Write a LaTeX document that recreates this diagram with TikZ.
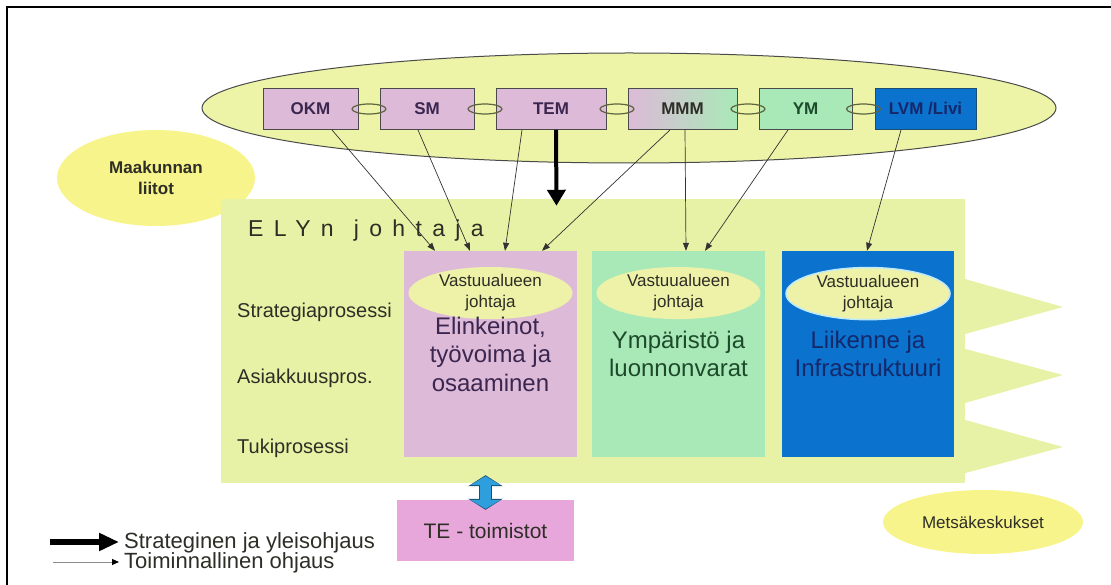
\documentclass[tikz,border=0pt]{standalone}
\usepackage{fontspec}
\setmainfont{Liberation Sans}
\usetikzlibrary{positioning,calc,arrows.meta,shapes.geometric}

\definecolor{ellfill}{HTML}{EDF4A8}
\definecolor{elyfill}{HTML}{E7F2A6}
\definecolor{yellowell}{HTML}{F7F48C}
\definecolor{pinkbox}{HTML}{DDBAD8}
\definecolor{greenbox}{HTML}{A9E9B7}
\definecolor{bluebox}{HTML}{0B72CE}
\definecolor{tefill}{HTML}{E7A7DB}
\definecolor{vastuufill}{HTML}{EDF2A8}
\definecolor{boxline}{HTML}{4A4A4A}
\definecolor{ringline}{HTML}{5E6440}
\definecolor{pinktext}{HTML}{3B2650}
\definecolor{greentext}{HTML}{1D4A2B}
\definecolor{bluetext}{HTML}{14286A}
\definecolor{darktext}{HTML}{2E2E26}
\definecolor{teblue}{HTML}{2E9FDC}
\definecolor{teedge}{HTML}{1B4E70}

\begin{document}
\begin{tikzpicture}[x=1pt,y=-1pt,
    minbox/.style={draw=boxline, line width=0.9pt, minimum height=41pt, inner sep=0pt,
      font=\fontsize{17}{17}\selectfont\bfseries},
    linkring/.style={ellipse, draw=ringline, line width=1.2pt, minimum width=34pt,
      minimum height=10pt, inner sep=0pt},
    area/.style={minimum width=173pt, minimum height=206pt, inner sep=0pt},
    vastuu/.style={ellipse, fill=vastuufill, minimum width=164pt, minimum height=42pt,
      inner sep=0pt, align=center, text=darktext, font=\fontsize{17}{21}\selectfont},
    areatext/.style={align=center, inner sep=0pt, font=\fontsize{24}{28.5}\selectfont},
    proc/.style={anchor=base west, inner sep=0pt, text=darktext, font=\fontsize{20}{20}\selectfont},
    legend/.style={anchor=base west, inner sep=0pt, text=darktext, font=\fontsize{22}{22}\selectfont},
    ohjaus/.style={draw=black!80, line width=0.7pt, -{Triangle[length=8pt,width=6pt]}},
    yleis/.style={line width=4pt, -{Triangle[length=16pt,width=18pt]}},
  ]
  \useasboundingbox (0,0) rectangle (1111,585);
  \draw[line width=1.8pt] (7,585) -- (7,7) -- (1111,7);

  % ministeries
  \node[ellipse, draw=boxline, line width=1pt, fill=ellfill, minimum width=854pt,
    minimum height=110pt, inner sep=0pt] (ministeriot) at (629,108) {};
  \node[ellipse, fill=yellowell, minimum width=198pt, minimum height=96pt, align=center,
    text=darktext, font=\fontsize{17}{21}\selectfont\bfseries] (maakunta) at (156,178) {Maakunnan\\liitot};

  \node[minbox, fill=pinkbox, minimum width=95pt, text=pinktext] (okm) at (310.5,109) {OKM};
  \node[minbox, fill=pinkbox, minimum width=94pt, text=pinktext] (sm) at (427,109) {SM};
  \node[minbox, fill=pinkbox, minimum width=110pt, text=pinktext] (tem) at (551,109) {TEM};
  \node[minbox, left color=pinkbox, right color=greenbox, minimum width=109pt, text=darktext] (mmm) at (682.5,109) {MMM};
  \node[minbox, fill=greenbox, minimum width=93pt, text=greentext] (ym) at (805.5,109) {YM};
  \node[minbox, fill=bluebox, draw=teedge, minimum width=101pt, text=bluetext] (lvm) at (925.5,109) {LVM /Livi};
  \foreach \a/\b in {okm/sm, sm/tem, tem/mmm, mmm/ym, ym/lvm}
    \node[linkring] at ($(\a.east)!0.5!(\b.west)$) {};

  % ELY
  \node[fill=elyfill, minimum width=744pt, minimum height=284pt, inner sep=0pt] (ely) at (593,341) {};
  \foreach \ya/\ym/\yb in {277/307/336, 347/375/405, 418/447/475}
    \fill[elyfill] (958,\ya) -- (1063,\ym) -- (958,\yb) -- cycle;
  \node[anchor=base west, inner sep=0pt, text=darktext, font=\fontsize{23}{23}\selectfont]
    (elyjohtaja) at (248,237) {\addfontfeature{LetterSpace=45}ELYn\hspace{20pt}johtaja};

  \node[proc] (strategia) at (237,317) {Strategiaprosessi};
  \node[proc] (asiakkuus) at (237,383) {Asiakkuuspros.};
  \node[proc] (tuki) at (237,453) {Tukiprosessi};

  \node[area, fill=pinkbox] (elink) at (490.5,354) {};
  \node[area, fill=greenbox] (ymparisto) at (678.5,354) {};
  \node[area, fill=bluebox, minimum width=172pt] (liikenne) at (868,354) {};
  \node[vastuu, below=16pt of elink.north] {Vastuualueen\\johtaja};
  \node[vastuu, below=16pt of ymparisto.north] {Vastuualueen\\johtaja};
  \node[vastuu, draw=cyan!25, line width=1.5pt, below=16pt of liikenne.north] {Vastuualueen\\johtaja};
  \node[areatext, text=pinktext] at (elink.center) {Elinkeinot,\\työvoima ja\\osaaminen};
  \node[areatext, text=greentext] at (ymparisto.center) {Ympäristö ja\\luonnonvarat};
  \node[areatext, text=bluetext] at (liikenne.center) {Liikenne ja\\Infrastruktuuri};

  % ohjaus
  \draw[ohjaus] ($(okm.south)+(21.5,0)$) -- ($(elink.north)+(-55.5,0)$);
  \draw[ohjaus] ($(sm.south)+(-9,0)$) -- ($(elink.north)+(-20.5,0)$);
  \draw[ohjaus] ($(tem.south)+(-29,0)$) -- ($(elink.north)+(14.5,0)$);
  \draw[ohjaus] ($(mmm.south)+(-12.5,0)$) -- ($(elink.north)+(51.5,0)$);
  \draw[ohjaus] ($(mmm.south)+(2.5,0)$) -- ($(ymparisto.north)+(7.5,0)$);
  \draw[ohjaus] ($(ym.south)+(-17.5,0)$) -- ($(ymparisto.north)+(26.5,0)$);
  \draw[ohjaus] ($(lvm.south)+(-24.5,0)$) -- ($(liikenne.north)+(-1,0)$);
  \draw[yleis] ($(tem.south)+(5,0)$) -- ($(tem.south |- ely.north)+(5.5,7)$);

  % TE-toimistot
  \node[fill=tefill, minimum width=177pt, minimum height=61pt, text=darktext,
    font=\fontsize{21}{21}\selectfont] (te) at (485.5,530.5) {TE - toimistot};
  \draw[teedge, line width=13.5pt, {Triangle[length=11pt,width=34pt]}-{Triangle[length=11pt,width=34pt]}]
    ($(te.north |- ely.south)+(0,-8)$) -- ($(te.north)+(0,10)$);
  \draw[teblue, line width=11pt, {Triangle[length=9pt,width=30pt]}-{Triangle[length=9pt,width=30pt]}]
    ($(te.north |- ely.south)+(0,-7)$) -- ($(te.north)+(0,9)$);

  \node[ellipse, fill=yellowell, minimum width=200pt, minimum height=64pt, text=darktext,
    font=\fontsize{17}{17}\selectfont] (metsa) at (983,522) {Metsäkeskukset};

  % legend
  \node[legend] (strateginen) at (124,548) {Strateginen ja yleisohjaus};
  \node[legend] (toiminnallinen) at (124,568) {Toiminnallinen ohjaus};
  \coordinate (legyleis) at (50,542);
  \coordinate (legohjaus) at (53,562);
  \draw[line width=6pt, -{Triangle[length=20pt,width=17pt]}] (legyleis) -- ($(strateginen.base west)+(-5,-6)$);
  \draw[black!45, line width=1pt, -{Triangle[length=7pt,width=6pt,black]}] (legohjaus) -- ($(toiminnallinen.base west)+(-5,-6)$);
\end{tikzpicture}
\end{document}
